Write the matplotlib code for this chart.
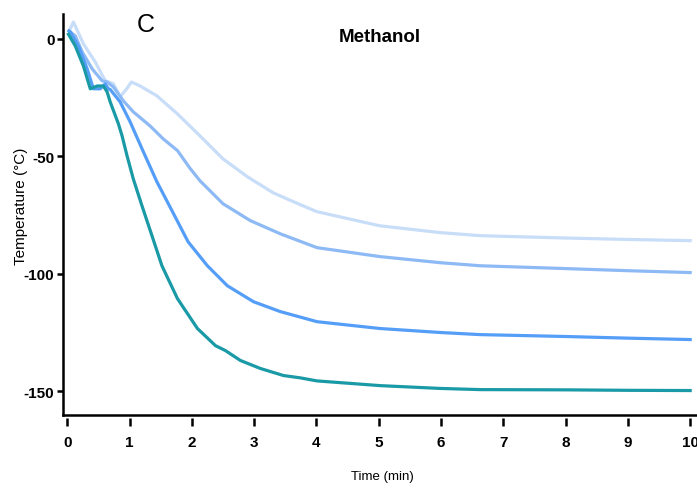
import matplotlib
matplotlib.use("Agg")
import matplotlib.pyplot as plt

plt.rcParams["axes.unicode_minus"] = False

# time (min) / temperature (degC)
light_t = [0.03, 0.1, 0.26, 0.45, 0.61, 0.74, 0.85, 0.96, 1.03, 1.17, 1.44, 1.77, 2.13, 2.5,
           2.89, 3.31, 3.74, 4.01, 5.02, 5.99, 6.63, 8.0, 9.0, 10.0]
light_T = [3.4, 7.2, -2.1, -9.8, -17.8, -19, -24.6, -21, -18.3, -20, -24.2, -31.9, -41.2, -51,
           -58.6, -65.5, -70.5, -73.5, -79.5, -82.4, -83.7, -84.7, -85.3, -85.8]

midlight_t = [0.03, 0.13, 0.24, 0.4, 0.56, 0.64, 0.74, 0.9, 1.06, 1.33, 1.54, 1.77, 1.97, 2.13,
              2.5, 2.94, 3.42, 4.01, 5.02, 5.99, 6.63, 8.0, 9.0, 10.0]
midlight_T = [3.4, 1.3, -5.5, -12.7, -17.8, -18.3, -20.4, -26.3, -31, -37, -42.5, -47.5, -55, -60.3,
              -70.1, -77.3, -82.9, -88.8, -92.6, -95.2, -96.5, -97.7, -98.6, -99.4]

mid_t = [0.03, 0.05, 0.18, 0.32, 0.42, 0.53, 0.61, 0.66, 0.69, 0.85, 1.01, 1.2, 1.44, 1.69, 1.94,
         2.25, 2.57, 2.99, 3.42, 4.01, 5.02, 5.99, 6.63, 8.0, 9.0, 10.0]
mid_T = [3.4, 3, -3, -12.7, -21.2, -21.2, -19.1, -21.2, -21.5, -26.8, -35.3, -46.7, -60.8, -73.5, -86.3,
         -96.5, -105, -111.8, -116, -120.3, -123.2, -124.9, -125.8, -126.6, -127.3, -127.9]

teal_t = [0.02, 0.13, 0.26, 0.37, 0.48, 0.58, 0.64, 0.69, 0.82, 0.88, 0.96, 1.06, 1.2, 1.36, 1.52,
          1.77, 2.09, 2.38, 2.54, 2.78, 3.1, 3.47, 3.74, 4.01, 5.02, 5.99, 6.63, 8.0, 9.0, 10.0]
teal_T = [2, -3, -11.5, -21.2, -20, -20, -22.5, -26.8, -36, -41.2, -49.7, -59.5, -71, -83.7, -96.5,
          -110.5, -123.2, -130.5, -132.6, -136.8, -140.2, -143.2, -144.2, -145.5, -147.5, -148.7,
          -149.2, -149.3, -149.5, -149.6]

xticks = list(range(0, 11))
yticks = [0, -50, -100, -150]

font = ["Liberation Sans", "DejaVu Sans"]

fig = plt.figure(figsize=(6.97, 4.89), dpi=100)
ax = fig.add_axes([0.0911, 0.1493, 0.9125, 0.8194])

ax.plot(light_t, light_T, color="#c8ddf8", lw=2.3, solid_joinstyle="round")
ax.plot(midlight_t, midlight_T, color="#8dbaf5", lw=2.3, solid_joinstyle="round")
ax.plot(mid_t, mid_T, color="#559ef8", lw=2.3, solid_joinstyle="round")
ax.plot(teal_t, teal_T, color="#1a9aa6", lw=2.3, solid_joinstyle="round")

ax.set_xlim(-0.06, 10.15)
ax.set_ylim(-160, 10.5)
ax.set_xticks(xticks)
ax.set_yticks(yticks)

for s in ["top", "right"]:
    ax.spines[s].set_visible(False)
ax.spines["left"].set_linewidth(1.8)
# x ticks hang a little below the axis line
ax.spines["bottom"].set_position(("outward", 2))
ax.spines["bottom"].set_visible(False)
ax.plot([0, 1], [0, 0], transform=ax.transAxes, color="black", lw=1.8,
        clip_on=False, solid_capstyle="projecting")

ax.tick_params(axis="x", direction="out", length=5.5, width=1.8, pad=7)
ax.tick_params(axis="y", direction="out", length=4.5, width=1.8, pad=2)
for lab in ax.get_xticklabels() + ax.get_yticklabels():
    lab.set_family(font)
    lab.set_fontweight("bold")
    lab.set_fontsize(11)

fig.text(382 / 697, 1 - 477 / 489, "Time (min)", family=font, fontsize=9.5,
         ha="center", va="center")
fig.text(21 / 697, 1 - 206 / 489, "Temperature (°C)", family=font, fontsize=11,
         rotation=90, ha="center", va="center")

fig.text(380 / 697, 1 - 37 / 489, "Methanol", family=font, fontweight="bold",
         fontsize=13.5, ha="center", va="center")
fig.text(146 / 697, 1 - 25 / 489, "C", family=font, fontsize=18, ha="center", va="center")

fig.savefig("out.png", dpi=100)
